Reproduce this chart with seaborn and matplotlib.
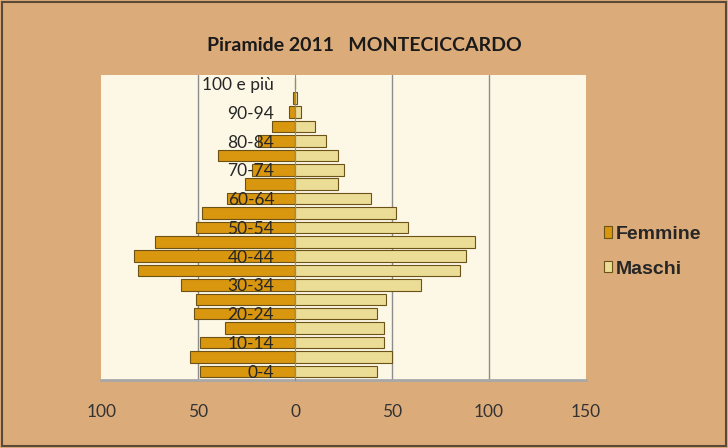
import matplotlib
matplotlib.use('Agg')
import matplotlib.pyplot as plt
import matplotlib.patches as mpatches
import pandas as pd
import seaborn as sns

# age classes, bottom to top
ages = ['0-4', '5-9', '10-14', '15-19', '20-24', '25-29', '30-34', '35-39',
        '40-44', '45-49', '50-54', '55-59', '60-64', '65-69', '70-74',
        '75-79', '80-84', '85-89', '90-94', '95-99', '100 e più']
femmine = [49, 54, 49, 36, 52, 51, 59, 81, 83, 72, 51, 48, 35, 26, 22, 40, 19, 12, 3, 1, 0]
maschi = [42, 50, 46, 46, 42, 47, 65, 85, 88, 93, 58, 52, 39, 22, 25, 22, 16, 10, 3, 1, 0]
xticks = [-100, -50, 0, 50, 100, 150]

df = pd.concat([
    pd.DataFrame({'age': ages, 'sex': 'Femmine', 'value': [-v for v in femmine]}),
    pd.DataFrame({'age': ages, 'sex': 'Maschi', 'value': maschi}),
])

sns.set_style('white')
plt.rcParams['font.family'] = ['Lato', 'DejaVu Sans']

fig = plt.figure(figsize=(7.28, 4.48), dpi=100, facecolor='#dcab7a')
ax = fig.add_axes([0.139, 0.152, 0.666, 0.681])
ax.set_facecolor('#fdf8e6')

order = ages[::-1]
sns.barplot(data=df, y='age', x='value', hue='sex', order=order, dodge=False,
            palette={'Femmine': '#d9960f', 'Maschi': '#ebdd96'}, saturation=1,
            edgecolor='#6b5318', linewidth=0.8, width=0.8, ax=ax)

# grid + axis at zero
for x in [-50, 50, 100]:
    ax.axvline(x, color='#8c8c8c', lw=1, zorder=0)
ax.set_xlim(-100, 150)
ax.set_xticks(xticks)
ax.set_xticklabels([str(abs(t)) for t in xticks])
ax.tick_params(axis='x', length=0, pad=17, labelsize=12.5, labelcolor='#333333')

# only every other age class is labelled, drawn over the bars
ax.set_yticks(range(len(order)))
ax.set_yticklabels([a if i % 2 == 0 else '' for i, a in enumerate(order)])
ax.tick_params(axis='y', length=0, pad=15, labelsize=12.5, labelcolor='#262626')
ax.yaxis.set_zorder(5)

ax.spines['left'].set_position(('data', 0))
ax.spines['left'].set_color('#8c8c8c')
ax.spines['left'].set_zorder(4)
ax.spines['top'].set_visible(False)
ax.spines['right'].set_visible(False)
ax.spines['bottom'].set_color('#a8a8a8')
ax.spines['bottom'].set_linewidth(2)
ax.set(xlabel=None, ylabel=None)
ax.set_ylim(20.6, -0.6)

# legend
leg = ax.legend(loc='center left', bbox_to_anchor=(1.0, 0.42), frameon=False,
                prop={'weight': 'bold', 'size': 14, 'family': 'Liberation Sans'},
                handlelength=0.45, handleheight=0.55, handletextpad=0.2, labelspacing=0.9)

fig.text(0.5, 0.898, 'Piramide 2011   MONTECICCARDO', ha='center', va='center',
         fontsize=14, fontweight='bold', color='#1a1a1a')

# outer chart border
fig.patches.append(mpatches.Rectangle((0.003, 0.004), 0.994, 0.992, transform=fig.transFigure,
                                      fill=False, edgecolor='#5a4a3a', lw=1.5))

fig.savefig('out.png', dpi=100, facecolor=fig.get_facecolor())
